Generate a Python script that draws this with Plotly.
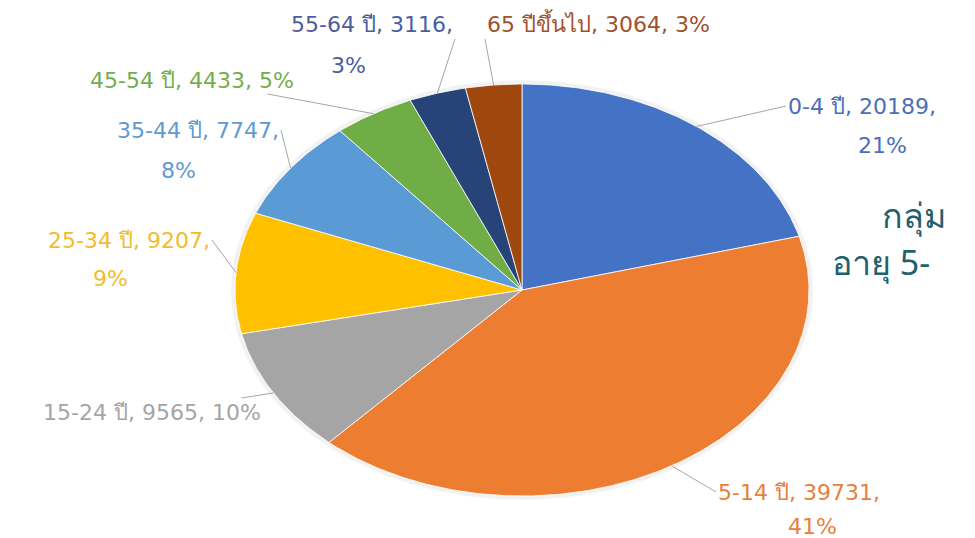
import math
import plotly.graph_objects as go

# ---- data ----
age_groups = ["0-4 ปี", "5-14 ปี", "15-24 ปี", "25-34 ปี",
              "35-44 ปี", "45-54 ปี", "55-64 ปี", "65 ปีขึ้นไป"]
patients = [20189, 39731, 9565, 9207, 7747, 4433, 3116, 3064]
slice_colors = ["#4472C4", "#ED7D31", "#A5A5A5", "#FFC000",
                "#5B9BD5", "#70AD47", "#264478", "#9E480E"]
label_colors = ["#4A6FB8", "#E8803A", "#A5A5A5", "#F2BC2A",
                "#5F9BD2", "#74AE4C", "#4A5E9E", "#A0522D"]
side_text = ["กลุ่ม", "อายุ 5-"]

# ---- layout constants (screen pixels; page body has an 8px margin) ----
OFF = 8
W, H = 975 - OFF, 538 - OFF
CX, CY = 522 - OFF, 290 - OFF      # pie centre in figure pixels
RX, RY = 287, 206                  # pie radii (drawn as an ellipse)
# connector tail point (screen px) and how the first label line hangs off it
tail_pos = [(786, 106), (716, 492), (152, 412), (212, 240),
            (281, 130), (192, 80), (455, 39), (485, 39)]
tail_anchor = [("left", "middle"), ("left", "middle"), ("auto", "auto"),
               ("right", "middle"), ("right", "middle"), ("auto", "auto"),
               ("right", "bottom"), ("left", "bottom")]
# position of the percent on its own line (None = same line)
pct_pos = [(882, 145), (812, 526), None, (110, 278),
           (178, 170), None, (348, 65), None]

total = sum(patients)
FONT = "DejaVu Sans, Arial, sans-serif"
FS = 22


def to_data(px, py):
    return (px - OFF - CX) / RX, (CY - (py - OFF)) / RY


fig = go.Figure()

# faint halo behind the pie
halo = list(range(0, 361, 2))
fig.add_trace(go.Scatter(
    x=[1.014 * math.sin(math.radians(a)) for a in halo],
    y=[1.018 * math.cos(math.radians(a)) for a in halo],
    fill="toself", fillcolor="rgba(0,0,0,0.05)", mode="lines",
    line=dict(width=0), hoverinfo="skip", showlegend=False))

annotations = []
start = 0.0
for i, (name, val) in enumerate(zip(age_groups, patients)):
    span = val / total * 360.0
    n = max(2, int(span / 0.5))
    angs = [start + span * k / n for k in range(n + 1)]
    xs = [0.0] + [math.sin(math.radians(a)) for a in angs] + [0.0]
    ys = [0.0] + [math.cos(math.radians(a)) for a in angs] + [0.0]
    pct = round(val / total * 100)
    fig.add_trace(go.Scatter(
        x=xs, y=ys, fill="toself", fillcolor=slice_colors[i], mode="lines",
        line=dict(color="white", width=0.8), name=name,
        hovertemplate=f"{name}<br>{val:,} ({pct}%)<extra></extra>",
        showlegend=False))
    mid = math.radians(start + span / 2)
    font = dict(family=FONT, size=FS, color=label_colors[i])
    if pct_pos[i] is None:
        line1 = f"{name}, {val}, {pct}%"
    else:
        line1 = f"{name}, {val},"
    ax, ay = to_data(*tail_pos[i])
    xa, ya = tail_anchor[i]
    annotations.append(dict(
        x=math.sin(mid), y=math.cos(mid), xref="x", yref="y",
        ax=ax, ay=ay, axref="x", ayref="y", xanchor=xa, yanchor=ya,
        text=line1, showarrow=True, arrowhead=0, arrowwidth=1,
        arrowcolor="#A6A6A6", standoff=0, startstandoff=0,
        font=font, align="center"))
    if pct_pos[i] is not None:
        px, py = to_data(*pct_pos[i])
        annotations.append(dict(
            x=px, y=py, xref="x", yref="y", text=f"{pct}%",
            showarrow=False, xanchor="center", yanchor="middle", font=font))
    start += span

side_pos = [(880, 215), (830, 262)]
for txt, (px, py) in zip(side_text, side_pos):
    annotations.append(dict(
        x=(px - OFF) / W, y=1 - (py - OFF) / H, xref="paper", yref="paper",
        text=txt, showarrow=False, xanchor="left", yanchor="middle",
        font=dict(family="Noto Sans, sans-serif", size=34, color="#22606E")))

fig.update_layout(
    width=W, height=H,
    margin=dict(l=0, r=0, t=0, b=0),
    paper_bgcolor="white", plot_bgcolor="white",
    xaxis=dict(range=[-CX / RX, (W - CX) / RX], visible=False, fixedrange=True),
    yaxis=dict(range=[-(H - CY) / RY, CY / RY], visible=False, fixedrange=True),
    annotations=annotations,
    showlegend=False,
)

fig.write_html("out.html")
